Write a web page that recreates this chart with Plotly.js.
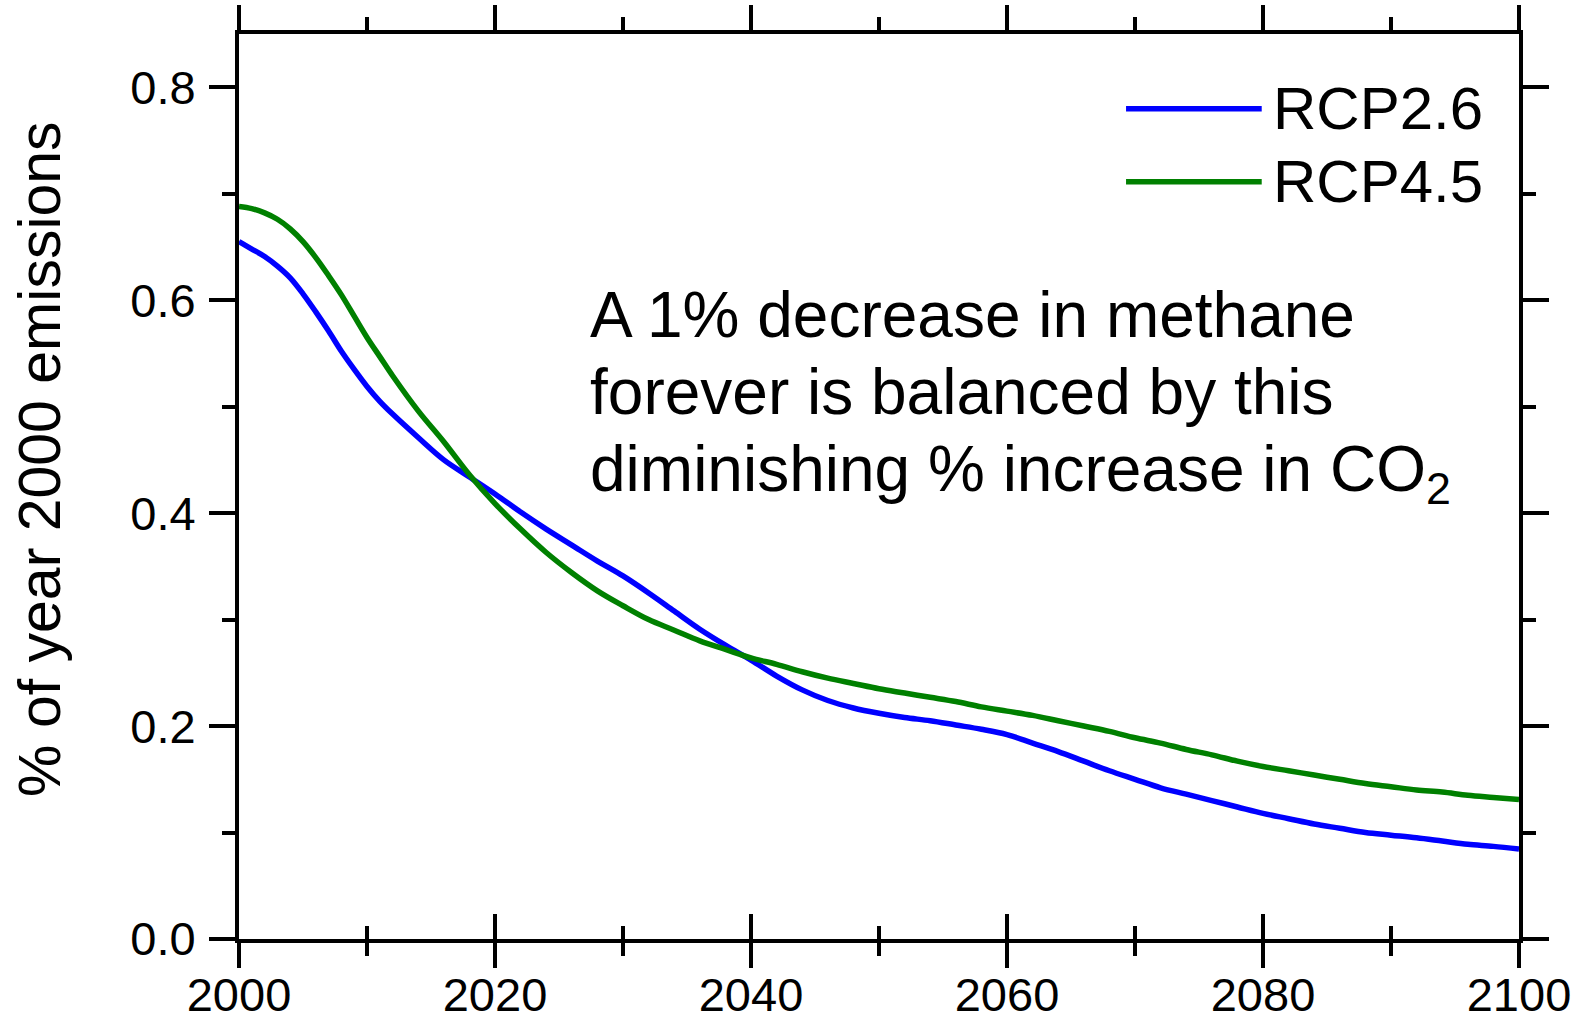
<!DOCTYPE html>
<html>
<head>
<meta charset="utf-8">
<script src="https://cdn.plot.ly/plotly-3.0.1.min.js"></script>
<style>html,body{margin:0;padding:0;background:#fff;}#chart{width:1583px;height:1024px;}</style>
</head>
<body>
<div id="chart"></div>
<script>
// ---- data ----
const years = [2000,2001,2002,2003,2004,2005,2006,2007,2008,2009,2010,2011,2012,2014,2016,2018,2020,2022,2024,2026,2028,2030,2032,2034,2036,2038,2040,2042,2044,2046,2048,2050,2052,2054,2056,2058,2060,2062,2064,2066,2068,2070,2072,2074,2076,2078,2080,2082,2084,2086,2088,2090,2092,2094,2096,2098,2100];
const rcp26 = [0.655,0.648,0.641,0.632,0.621,0.606,0.589,0.571,0.552,0.535,0.519,0.505,0.493,0.471,0.450,0.434,0.418,0.401,0.385,0.370,0.355,0.341,0.325,0.308,0.291,0.276,0.262,0.247,0.234,0.224,0.217,0.212,0.208,0.205,0.201,0.197,0.192,0.184,0.176,0.167,0.158,0.150,0.142,0.136,0.130,0.124,0.118,0.113,0.108,0.104,0.100,0.0975,0.095,0.092,0.089,0.087,0.0844];
const rcp45 = [0.688,0.686,0.682,0.676,0.667,0.655,0.640,0.623,0.605,0.585,0.565,0.547,0.529,0.496,0.467,0.436,0.409,0.385,0.363,0.344,0.327,0.313,0.300,0.290,0.280,0.272,0.264,0.258,0.251,0.245,0.240,0.235,0.231,0.227,0.223,0.218,0.214,0.210,0.205,0.200,0.195,0.189,0.184,0.178,0.173,0.167,0.162,0.158,0.154,0.150,0.146,0.143,0.140,0.138,0.135,0.133,0.131];
const seriesNames = ['RCP2.6','RCP4.5'];
const seriesColors = ['#0000ff','#008000'];
const yTitle = '% of year 2000 emissions';
const noteLines = ['A 1% decrease in methane','forever is balanced by this','diminishing % increase in CO<sub>2</sub>'];

const FONT = 'Liberation Sans, Arial, Helvetica, sans-serif';
const seriesValues = [rcp26, rcp45];
const seriesXAxes = ['x', 'x2'];

const traces = seriesNames.map((n, i) => ({
  x: years, y: seriesValues[i], name: n, type: 'scatter', mode: 'lines',
  line: {color: seriesColors[i], width: 5.5, shape: 'spline', smoothing: 1},
  xaxis: seriesXAxes[i], yaxis: 'y', showlegend: false, hoverinfo: 'skip'
}));

const common = {showgrid: false, zeroline: false, linecolor: '#000', linewidth: 4, tickcolor: '#000', tickwidth: 4};
const tickFont = {size: 47, family: FONT, color: '#000'};

const layout = {
  width: 1583, height: 1024,
  margin: {l: 239, r: 64, t: 34, b: 85, pad: 0},
  paper_bgcolor: '#fff', plot_bgcolor: '#fff',
  font: {family: FONT, color: '#000'},
  showlegend: false,
  xaxis: Object.assign({}, common, {
    range: [2000, 2100], tick0: 2000, dtick: 20, showline: true, mirror: 'ticks',
    ticks: 'outside', ticklen: 25, showticklabels: false,
    minor: {dtick: 10, ticks: 'outside', ticklen: 13, tickwidth: 4, tickcolor: '#000', showgrid: false},
    anchor: 'y'
  }),
  xaxis2: Object.assign({}, common, {
    range: [2000, 2100], tick0: 2000, dtick: 20, overlaying: 'x', side: 'bottom', anchor: 'y',
    showline: false, ticks: 'inside', ticklen: 25, showticklabels: true, ticklabelstandoff: 24,
    tickfont: tickFont,
    minor: {dtick: 10, ticks: 'inside', ticklen: 13, tickwidth: 4, tickcolor: '#000', showgrid: false}
  }),
  yaxis: Object.assign({}, common, {
    range: [0, 0.85], tick0: 0, dtick: 0.2, tickformat: '.1f', showline: true, mirror: 'ticks',
    ticks: 'outside', ticklen: 26, ticklabelstandoff: 4,
    minor: {dtick: 0.1, ticks: 'outside', ticklen: 13, tickwidth: 4, tickcolor: '#000', showgrid: false},
    tickfont: tickFont, anchor: 'x'
  }),
  annotations: [
    {xref: 'paper', yref: 'paper', x: -0.155, y: 0.530, xanchor: 'center', yanchor: 'middle',
     text: yTitle, textangle: -90, showarrow: false, font: {size: 59, family: FONT, color: '#000'}}
  ],
  shapes: []
};

// note text, one annotation per line (tighter line spacing like the reference)
const noteY = [0.7316, 0.6467, 0.5618];
noteLines.forEach((t, i) => {
  layout.annotations.push({xref: 'paper', yref: 'paper', x: 0.273, y: noteY[i], xanchor: 'left', yanchor: 'top', align: 'left',
    text: t, showarrow: false, font: {size: 64, family: FONT, color: '#000'}});
});

// custom legend (long line samples like the reference)
const legY = [0.9173, 0.8368];
seriesNames.forEach((n, i) => {
  layout.shapes.push({type: 'line', xref: 'paper', yref: 'paper', x0: 0.693, x1: 0.799, y0: legY[i], y1: legY[i],
    line: {color: seriesColors[i], width: 5.5}});
  layout.annotations.push({xref: 'paper', yref: 'paper', x: 0.806, y: legY[i], xanchor: 'left', yanchor: 'middle',
    text: n, showarrow: false, font: {size: 60, family: FONT, color: '#000'}});
});

Plotly.newPlot('chart', traces, layout, {displayModeBar: false, staticPlot: true});
</script>
</body>
</html>
